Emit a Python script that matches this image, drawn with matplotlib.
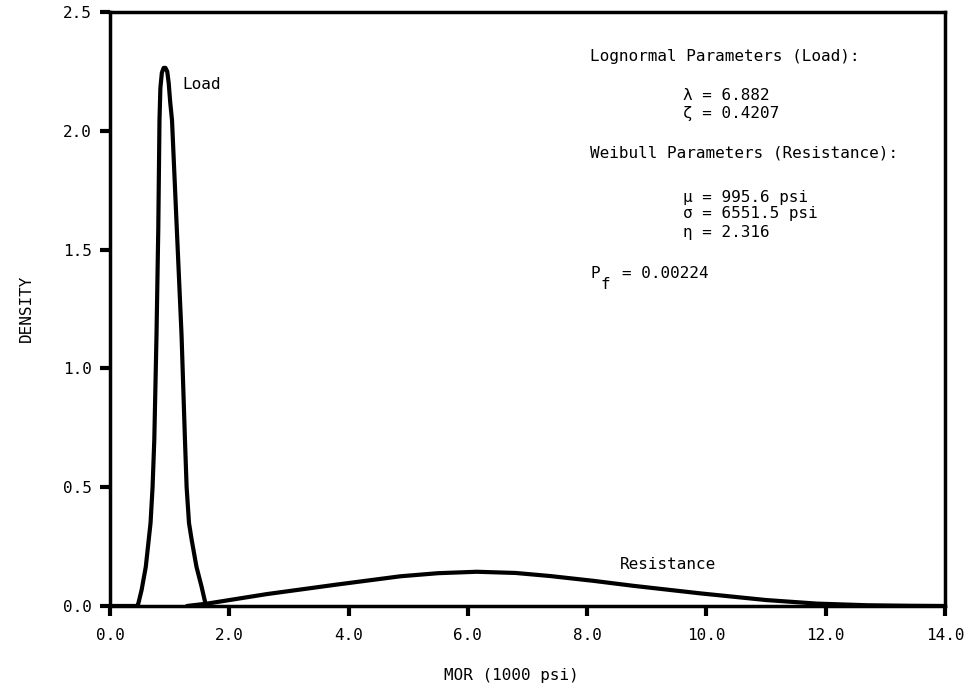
import matplotlib
matplotlib.use("Agg")
import matplotlib.pyplot as plt

plt.rcParams['font.family'] = ['DejaVu Sans Mono']

# Load curve (lognormal)
load_x = [0.0, 0.45, 0.47, 0.53, 0.60, 0.68, 0.714, 0.743, 0.78, 0.81, 0.83, 0.845, 0.87,
          0.90, 0.93, 0.96, 0.985, 1.01, 1.04, 1.12, 1.20, 1.257, 1.285, 1.325, 1.37, 1.45,
          1.536, 1.61]
load_y = [0.0, 0.0, 0.005, 0.067, 0.164, 0.349, 0.50, 0.70, 1.14, 1.59, 2.045, 2.18, 2.245,
          2.265, 2.265, 2.25, 2.20, 2.12, 2.045, 1.59, 1.14, 0.70, 0.50, 0.349, 0.278, 0.165,
          0.081, 0.0]

# Resistance curve (Weibull)
res_x = [1.29, 1.63, 2.63, 3.8, 4.87, 5.5, 6.15, 6.8, 7.38, 8.1, 8.77, 9.9, 11.0, 11.85, 12.7, 13.4, 14.0]
res_y = [0.0, 0.01, 0.05, 0.09, 0.125, 0.138, 0.144, 0.139, 0.126, 0.106, 0.085, 0.053, 0.025,
         0.010, 0.003, 0.001, 0.0]

xticks = [0, 2, 4, 6, 8, 10, 12, 14]
xticklabels = ["0.0", "2.0", "4.0", "6.0", "8.0", "10.0", "12.0", "14.0"]
yticks = [0.0, 0.5, 1.0, 1.5, 2.0, 2.5]
yticklabels = ["0.0", "0.5", "1.0", "1.5", "2.0", "2.5"]

fig = plt.figure(figsize=(9.69, 6.89), dpi=100)
ax = fig.add_axes([0.1135, 0.1205, 0.8617, 0.862])

lw = 3.0
ax.plot(load_x, load_y, color='black', lw=lw, solid_joinstyle='round', solid_capstyle='round')
ax.plot(res_x, res_y, color='black', lw=lw, solid_joinstyle='round', solid_capstyle='round')

ax.set_xlim(0, 14)
ax.set_ylim(0, 2.5)
ax.set_xticks(xticks)
ax.set_xticklabels(xticklabels)
ax.set_yticks(yticks)
ax.set_yticklabels(yticklabels)
for s in ax.spines.values():
    s.set_linewidth(2.5)
ax.tick_params(direction='out', length=7, width=3, labelsize=11.5, pad=6)
ax.tick_params(axis='x', pad=9)

fs = 11.5
ax.text(1.21, 2.197, "Load", fontsize=fs, ha='left', va='center')
ax.text(8.05, 2.315, "Lognormal Parameters (Load):", fontsize=fs, ha='left', va='center')
ax.text(9.61, 2.15, "\u03bb = 6.882", fontsize=fs, ha='left', va='center')
ax.text(9.61, 2.075, "\u03b6 = 0.4207", fontsize=fs, ha='left', va='center')
ax.text(8.05, 1.907, "Weibull Parameters (Resistance):", fontsize=fs, ha='left', va='center')
ax.text(9.61, 1.72, "\u03bc = 995.6 psi", fontsize=fs, ha='left', va='center')
ax.text(9.61, 1.654, "\u03c3 = 6551.5 psi", fontsize=fs, ha='left', va='center')
ax.text(9.61, 1.574, "\u03b7 = 2.316", fontsize=fs, ha='left', va='center')
ax.text(8.05, 1.40, "P", fontsize=fs, ha='left', va='center')
ax.text(8.23, 1.352, "f", fontsize=fs, ha='left', va='center')
ax.text(8.585, 1.40, "= 0.00224", fontsize=fs, ha='left', va='center')
ax.text(8.55, 0.173, "Resistance", fontsize=fs, ha='left', va='center')

fig.text(0.528, 0.02, "MOR (1000 psi)", fontsize=fs, ha='center', va='center')
fig.text(0.027, 0.553, "DENSITY", fontsize=11.5, ha='center', va='center', rotation=90)

fig.savefig("out.png", dpi=100)
